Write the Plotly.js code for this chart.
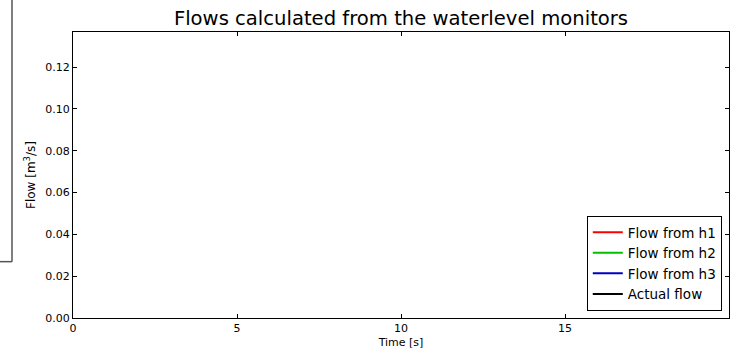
<!DOCTYPE html>
<html><head><meta charset="utf-8">
<script src="https://cdn.plot.ly/plotly-3.0.1.min.js"></script>
<style>html,body{margin:0;padding:0;background:#fff}#chart{width:735px;height:355px}</style>
</head><body><div id="chart"></div>
<script>
const seriesNames = ["Flow from h1", "Flow from h2", "Flow from h3", "Actual flow"];
const seriesColors = ["#ff0000", "#00c000", "#0000c0", "#000000"];
const time = [null];
const flowH1 = [null];
const flowH2 = [null];
const flowH3 = [null];
const flowActual = [null];
const xTicks = [0, 5, 10, 15];
const yTicks = [0, 0.02, 0.04, 0.06, 0.08, 0.10, 0.12];

const flows = [flowH1, flowH2, flowH3, flowActual];
const traces = flows.map((f, i) => ({
  x: time, y: f, type: 'scatter', mode: 'lines', name: seriesNames[i],
  line: {color: seriesColors[i], width: 2}
}));

const font = {family: 'DejaVu Sans, sans-serif', color: '#000'};
const layout = {
  width: 735, height: 355,
  margin: {l: 73, r: 6, t: 32, b: 37},
  paper_bgcolor: '#fff', plot_bgcolor: '#fff',
  font: Object.assign({size: 11}, font),
  title: {text: 'Flows calculated from the waterlevel monitors', font: Object.assign({size: 19.6}, font),
          xref: 'paper', x: 0.5, xanchor: 'center', y: 0.95, yanchor: 'middle'},
  showlegend: true,
  legend: {x: 0.989, xanchor: 'right', y: 0.0245, yanchor: 'bottom', bgcolor: '#fff',
           bordercolor: '#000', borderwidth: 1, font: Object.assign({size: 13.5}, font),
           tracegroupgap: 0, itemwidth: 30},
  xaxis: {range: [0, 20], tickvals: xTicks, ticktext: xTicks.map(String), ticks: 'inside', ticklen: 4,
          mirror: 'allticks', showline: true, linecolor: '#000', linewidth: 1, showgrid: false, zeroline: false,
          tickcolor: '#000', title: {text: 'Time [s]', font: Object.assign({size: 11}, font), standoff: 4}},
  yaxis: {range: [0, 0.1368], tickvals: yTicks, ticktext: yTicks.map(v => v.toFixed(2)), ticks: 'inside', ticklen: 4,
          mirror: 'allticks', showline: true, linecolor: '#000', linewidth: 1, showgrid: false, zeroline: false,
          tickcolor: '#000', title: {text: 'Flow [m<sup>3</sup>/s]', font: Object.assign({size: 12}, font), standoff: 7}},
  shapes: [
    {type: 'line', xref: 'paper', yref: 'paper', x0: -0.093, x1: -0.093, y0: 1.12, y1: 0.197, line: {color: '#555', width: 1.5}},
    {type: 'line', xref: 'paper', yref: 'paper', x0: -0.12, x1: -0.093, y0: 0.197, y1: 0.197, line: {color: '#555', width: 1.5}}
  ],
  annotations: [
    {text: 'Time [s]', xref: 'paper', yref: 'paper', x: 0.5, y: 1.10, xanchor: 'center', yanchor: 'bottom',
     showarrow: false, font: Object.assign({size: 11}, font)}
  ]
};
Plotly.newPlot('chart', traces, layout, {staticPlot: true});
</script></body></html>
